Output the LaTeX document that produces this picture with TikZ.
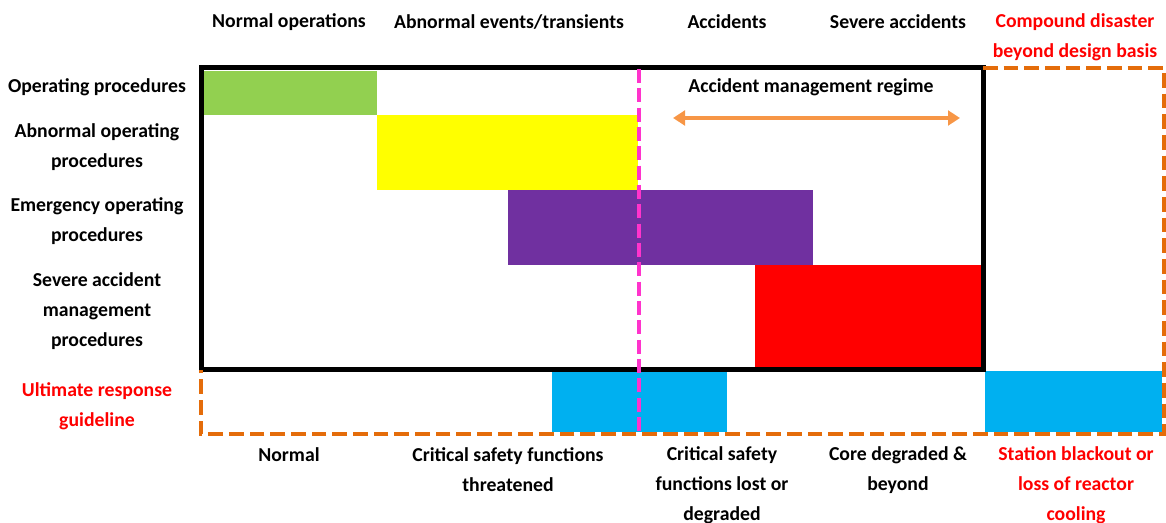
\documentclass[tikz,border=0pt]{standalone}
\usepackage{fontspec}
\setmainfont{Carlito}
\usetikzlibrary{arrows.meta}
\definecolor{opgreen}{HTML}{92D050}
\definecolor{abnyellow}{HTML}{FFFF00}
\definecolor{emgpurple}{HTML}{7030A0}
\definecolor{sevred}{HTML}{FF0000}
\definecolor{urgblue}{HTML}{00B0F0}
\definecolor{limitpink}{HTML}{FF33CC}
\definecolor{dashorange}{HTML}{E46C0A}
\definecolor{regorange}{HTML}{F79646}
\begin{document}
\begin{tikzpicture}[x=0.75pt,y=-0.75pt]
\tikzset{lbl/.style = {font=\bfseries\fontsize{14.8}{22.5}\selectfont, align=center, inner sep=0pt}}
\tikzset{warn/.style = {lbl, text=sevred}}
\tikzset{orangedash/.style = {dashorange, line width=3pt, dash pattern=on 11pt off 4.5pt}}
\useasboundingbox (0,0) rectangle (1166,523);
% procedure bands
\fill[opgreen] (204,71) rectangle (377,115);
\fill[abnyellow] (377,115) rectangle (638,190);
\fill[emgpurple] (508,190) rectangle (813,265);
\fill[sevred] (755,265) rectangle (981,368);
% ultimate response bands
\fill[urgblue] (552,372) rectangle (727,432);
\fill[urgblue] (985,371) rectangle (1162,432);
% design basis frame
\draw[line width=3.75pt] (201,68) rectangle (983,370);
% beyond design basis frame
\draw[orangedash] (983,68) -- (1164,68) -- (1164,434) -- (201,434) -- (201,370);
% boundary of accidents
\draw[limitpink, line width=3pt, dash pattern=on 10.5pt off 4pt] (639,69) -- (639,432);
% column headings
\node[lbl] (hnorm) at (289,22) {Normal operations};
\node[lbl] (habn) at (509,22) {Abnormal events/transients};
\node[lbl] (hacc) at (727,22) {Accidents};
\node[lbl] (hsev) at (898,22) {Severe accidents};
\node[warn] (hcomp) at (1075,37) {Compound disaster\\beyond design basis};
% row labels
\node[lbl] (rop) at (97,87) {Operating procedures};
\node[lbl] (rabn) at (97,147) {Abnormal operating\\procedures};
\node[lbl] (remg) at (97,221) {Emergency operating\\procedures};
\node[lbl] (rsev) at (97,311) {Severe accident\\management\\procedures};
\node[warn] (rurg) at (97,406) {Ultimate response\\guideline};
% accident management regime
\node[lbl] (regime) at (811,87) {Accident management regime};
\coordinate (regl) at (673,118);
\coordinate (regr) at (960,118);
\draw[regorange, line width=3pt, {Triangle[width=11pt,length=9pt]}-{Triangle[width=11pt,length=9pt]}] (regl) -- (regr);
% plant states
\node[lbl] (snorm) at (289,455) {Normal};
\node[lbl] (sthr) at (508,470) {Critical safety functions\\threatened};
\node[lbl] (slost) at (722,485) {Critical safety\\functions lost or\\degraded};
\node[lbl] (score) at (898,470) {Core degraded \&\\beyond};
\node[warn] (ssbo) at (1076,485) {Station blackout or\\loss of reactor\\cooling};
\end{tikzpicture}
\end{document}
